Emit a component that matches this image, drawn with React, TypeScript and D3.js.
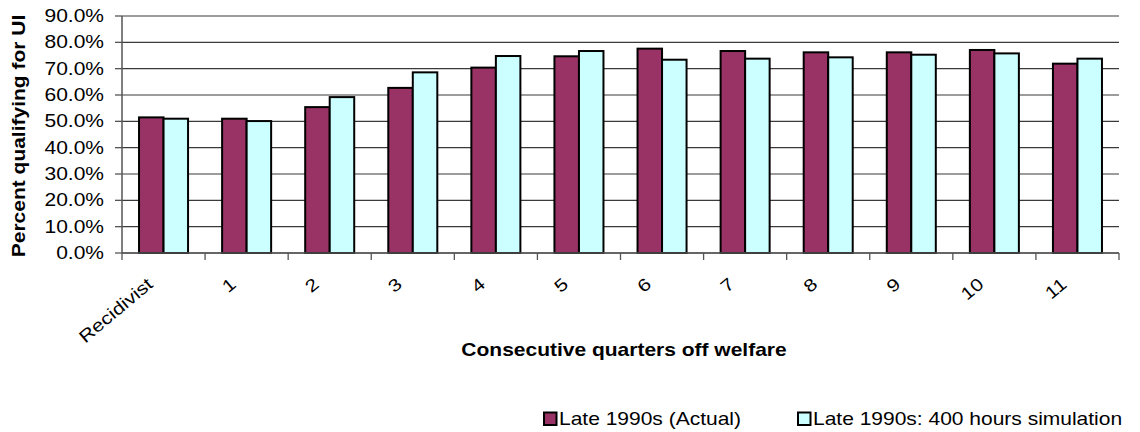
import React from "react";
import * as d3 from "d3";

// Consecutive quarters off welfare (x categories)
const categories: string[] = ["Recidivist", "1", "2", "3", "4", "5", "6", "7", "8", "9", "10", "11"];

// Share qualifying for UI, per category
const actualValues: number[] = [0.515, 0.510, 0.554, 0.627, 0.704, 0.747, 0.776, 0.767, 0.762, 0.762, 0.771, 0.719];
const simulationValues: number[] = [0.510, 0.501, 0.592, 0.686, 0.748, 0.767, 0.734, 0.738, 0.743, 0.753, 0.758, 0.738];

const seriesNames: string[] = ["Late 1990s (Actual)", "Late 1990s: 400 hours simulation"];
const seriesColors: string[] = ["#993366", "#CCFFFF"];

const yTicks: number[] = [0, 0.1, 0.2, 0.3, 0.4, 0.5, 0.6, 0.7, 0.8, 0.9];

const W = 1140;
const H = 432;
const plot = { left: 122, right: 1119, top: 16, bottom: 253 };
const FONT = "Arial, 'Liberation Sans', sans-serif";
const FS = 17.5;
const STRETCH = 1.2;

export default function App() {
  const x0 = d3
    .scaleBand<string>()
    .domain(categories)
    .range([plot.left, plot.right])
    .paddingInner(0.41)
    .paddingOuter(0.205);
  const x1 = d3.scaleBand<string>().domain(seriesNames).range([0, x0.bandwidth()]);
  const y = d3.scaleLinear().domain([0, 0.9]).range([plot.bottom, plot.top]);
  const fmt = d3.format(".1%");
  const step = x0.step();
  const seriesValues = [actualValues, simulationValues];

  const boundaries = d3.range(categories.length + 1).map((i) => plot.left + i * step);

  return (
    <div style={{ position: "absolute", left: 0, top: 0 }}>
      <svg width={W} height={H} style={{ display: "block", background: "#fff" }}>
        {/* horizontal gridlines */}
        {yTicks.map((t) => (
          <line key={"g" + t} x1={plot.left} x2={plot.right} y1={y(t)} y2={y(t)} stroke="#3a3a3a" strokeWidth={1.2} />
        ))}

        {/* bars */}
        {categories.map((c, i) => (
          <g key={c}>
            {seriesNames.map((s, j) => {
              const v = seriesValues[j][i];
              return (
                <rect
                  key={s}
                  x={(x0(c) as number) + (x1(s) as number)}
                  y={y(v)}
                  width={x1.bandwidth()}
                  height={y(0) - y(v)}
                  fill={seriesColors[j]}
                  stroke="#000"
                  strokeWidth={2}
                />
              );
            })}
          </g>
        ))}

        {/* y axis */}
        <line x1={plot.left} x2={plot.left} y1={plot.top} y2={plot.bottom} stroke="#555" strokeWidth={1.5} />
        {yTicks.map((t) => (
          <g key={"yt" + t}>
            <line x1={plot.left - 7} x2={plot.left} y1={y(t)} y2={y(t)} stroke="#555" strokeWidth={1.3} />
            <text
              transform={`translate(${plot.left - 18},${y(t) + 6}) scale(${STRETCH},1)`}
              textAnchor="end"
              fontFamily={FONT}
              fontSize={FS}
              fill="#000"
            >
              {fmt(t)}
            </text>
          </g>
        ))}

        {/* x axis */}
        <line x1={plot.left} x2={plot.right} y1={plot.bottom} y2={plot.bottom} stroke="#555" strokeWidth={1.5} />
        {boundaries.map((bx, i) => (
          <line key={"xt" + i} x1={bx} x2={bx} y1={plot.bottom} y2={plot.bottom + 7} stroke="#555" strokeWidth={1.3} />
        ))}
        {categories.map((c) => {
          const cx = (x0(c) as number) + x0.bandwidth() / 2;
          return (
            <text
              key={"xl" + c}
              transform={`translate(${cx - 9.5},${plot.bottom + 33}) rotate(-40) scale(${STRETCH},1)`}
              textAnchor="end"
              fontFamily={FONT}
              fontSize={FS}
              fill="#000"
            >
              {c}
            </text>
          );
        })}

        {/* axis titles */}
        <text
          transform={`translate(25,136) rotate(-90) scale(${STRETCH},1)`}
          textAnchor="middle"
          fontFamily={FONT}
          fontSize={FS}
          fontWeight="bold"
          fill="#000"
        >
          Percent qualifying for UI
        </text>
        <text
          transform={`translate(624,356) scale(${STRETCH},1)`}
          textAnchor="middle"
          fontFamily={FONT}
          fontSize={FS}
          fontWeight="bold"
          fill="#000"
        >
          Consecutive quarters off welfare
        </text>

        {/* legend */}
        {seriesNames.map((s, j) => {
          const lx = j === 0 ? 543 : 797;
          return (
            <g key={"lg" + s}>
              <rect x={lx + 1} y={412.5} width={12.5} height={12.5} fill={seriesColors[j]} stroke="#000" strokeWidth={2} />
              <text
                transform={`translate(${lx + 16},425) scale(${STRETCH},1)`}
                fontFamily={FONT}
                fontSize={FS}
                fill="#000"
              >
                {s}
              </text>
            </g>
          );
        })}
      </svg>
    </div>
  );
}
